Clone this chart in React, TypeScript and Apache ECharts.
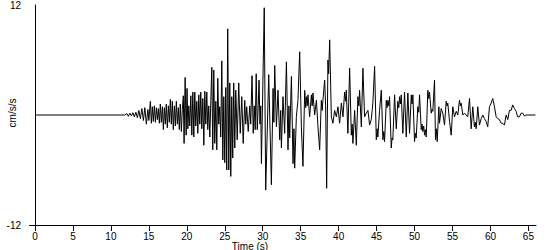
import React, { useEffect, useRef } from "react";
import * as echarts from "echarts";

// Time ticks (s)
const timeTicks = [0, 5, 10, 15, 20, 25, 30, 35, 40, 45, 50, 55, 60, 65];
const accelTicks = [-12, 12];

// Trace segments: [time (s), acceleration (cm/s/s)]
const quietTrace = [[0.13, 0], [11.84, 0]];

const onsetTrace = [
  [12.11, 0.15], [12.3, -0.15], [12.5, 0.2], [12.7, -0.1], [12.89, 0.25], [13.09, -0.2],
  [13.29, 0.3], [13.49, -0.3], [13.68, 0.5], [13.88, -0.4], [14.08, 0.7], [14.28, -0.6],
  [14.47, 0.8], [14.67, -1.0], [14.87, 0.6], [15.0, -0.6],
];

const strongTrace = [
  [15.2, 1.5], [15.33, -0.9], [15.46, 0.9], [15.59, -0.7], [15.72, 1.0], [15.86, -0.8],
  [15.99, 0.8], [16.12, -0.5], [16.25, 0.7], [16.38, -0.9], [16.51, 1.2], [16.64, -0.8],
  [16.78, 0.9], [16.91, -1.6], [17.04, 0.8], [17.17, -1.0], [17.3, 1.2], [17.43, -1.4],
  [17.57, 1.0], [17.7, -0.8], [17.83, 1.7], [17.96, -1.0], [18.09, 1.5], [18.22, -1.6],
  [18.36, 1.0], [18.49, -1.2], [18.62, 1.5], [18.75, -1.0], [18.88, 0.8], [19.01, -1.6],
  [19.14, 1.2], [19.28, -1.8], [19.41, 0.6], [19.54, 2.1], [19.64, -3.1], [19.78, 4.1],
  [19.91, -2.2], [20.03, 2.9], [20.14, -1.5], [20.26, 1.0], [20.39, -1.2], [20.53, 2.1],
  [20.66, -2.2], [20.79, 2.5], [20.92, -2.4], [21.05, 2.5], [21.18, -1.2], [21.32, 1.5],
  [21.45, -2.0], [21.58, 2.2], [21.71, -1.0], [21.84, 2.5], [21.97, -1.5], [22.11, 1.8],
  [22.24, -3.3], [22.37, 2.6], [22.5, -1.0], [22.63, 2.5], [22.76, -1.6], [22.89, 1.0],
  [23.03, -2.4], [23.16, 1.5], [23.29, 5.2], [23.42, -3.8], [23.55, 4.9], [23.68, -3.1],
  [23.82, 1.5], [23.95, -3.8], [24.08, 4.0], [24.21, -1.0], [24.34, 0.9], [24.47, -2.4],
  [24.61, 5.9], [24.74, -4.9], [24.87, 2.0], [25.0, -5.2], [25.13, 3.0], [25.26, -6.0],
  [25.39, 9.4], [25.53, -6.0], [25.66, 3.5], [25.79, -6.7], [25.92, 2.0], [26.05, -4.7],
  [26.18, 3.5], [26.32, -3.6], [26.45, 2.7], [26.64, -2.7], [26.84, 3.5], [27.04, -2.0],
  [27.24, 2.0], [27.43, -3.1], [27.63, 1.6], [27.76, -1.0], [27.89, 0.9], [28.09, -1.8],
  [28.29, 1.0], [28.42, -1.0], [28.59, 4.3], [28.75, -2.0], [28.88, 1.0], [29.01, -1.6],
  [29.14, 4.5], [29.28, -1.6], [29.41, 1.0], [29.51, 3.8], [29.64, -1.0], [29.74, 1.0],
  [29.83, -5.3], [30.2, 11.7], [30.39, -8.2],
];

const codaTrace = [
  [30.79, 4.4], [31.14, -7.6], [31.36, 2.9], [31.47, -0.8], [31.58, 5.4], [31.8, -1.3],
  [32.01, 2.7], [32.24, -2.7], [32.37, 0.5], [32.46, -3.6], [32.67, 2.0], [32.89, -2.0],
  [33.12, 5.8], [33.33, -3.8], [33.45, 1.0], [33.55, -2.5], [33.78, 4.2], [33.99, -5.3],
  [34.11, -1.5], [34.21, -5.8], [34.43, -0.2], [34.64, 1.6], [34.87, 6.9], [35.09, -1.3],
  [35.3, -5.6], [35.53, 2.7], [35.66, 0.8], [35.75, 2.0], [35.86, 1.0], [35.96, 2.2],
  [36.18, -0.2], [36.41, 2.2], [36.51, 1.0], [36.62, 2.4], [36.84, 0.0], [37.07, 1.6],
  [37.28, -1.3], [37.5, -3.8], [37.72, 1.6], [37.83, 0.5], [37.93, 1.6], [38.16, 3.8],
  [38.29, 1.0], [38.42, -8.0], [38.59, 6.0], [38.68, 4.5], [38.82, 8.2], [39.04, -0.2],
  [39.25, -0.9], [39.47, 0.5], [39.7, -0.2], [39.91, 0.9], [40.13, -0.9], [40.36, 1.3],
  [40.57, -0.2], [40.79, 2.5], [40.92, 1.5], [41.01, 2.7], [41.22, -2.0], [41.45, 5.1],
  [41.67, -2.2], [41.78, -1.0], [41.88, -3.1], [42.11, 0.5], [42.33, -3.3], [42.54, 2.0],
  [42.66, 1.0], [42.76, 2.7], [42.99, -1.3], [43.2, 5.1], [43.42, -0.2], [43.64, 0.2],
  [43.86, 0.5], [44.08, -1.1], [44.3, -0.5], [44.51, 1.3], [44.74, 5.3], [44.96, -2.7],
  [45.07, -1.5], [45.17, -2.4], [45.39, 0.5], [45.62, 2.7], [45.83, -2.7], [45.95, -1.8],
  [46.05, -2.9], [46.28, 1.6], [46.38, 0.8], [46.49, 1.6], [46.61, 1.0], [46.71, 2.0],
  [46.93, -3.6], [47.04, -2.5], [47.14, -2.7], [47.37, 2.2], [47.59, -1.5], [47.8, 1.5],
  [47.92, 0.8],
];

const tailTrace = [
  [48.03, 2.0], [48.13, 1.2], [48.25, 2.2], [48.46, -2.0], [48.68, 2.5], [48.91, -2.4],
  [49.12, 2.4], [49.34, -2.0], [49.57, 2.2], [49.67, 1.2], [49.78, 2.2], [50.0, -2.9],
  [50.11, -2.0], [50.22, -2.5], [50.43, 0.9], [50.55, 0.3], [50.66, 2.2], [50.88, -1.6],
  [50.99, -1.0], [51.09, -1.8], [51.21, -1.2], [51.32, -2.2], [51.42, -1.6], [51.54, -2.4],
  [51.75, 2.7], [51.87, 1.8], [51.97, 2.5], [52.2, 0.2], [52.3, 0.6], [52.41, 0.4],
  [52.63, 3.8], [52.76, -2.7], [52.87, -1.5], [52.99, -2.9], [53.2, 0.9], [53.29, -0.9],
  [53.51, 0.7], [53.72, 0.2], [53.95, -1.1], [54.17, 1.5], [54.28, 1.0], [54.38, 1.3],
  [54.61, -0.7], [54.83, -2.2], [55.04, 0.9], [55.26, -0.2], [55.49, 0.4], [55.7, 0.0],
  [55.92, 1.6], [56.03, 1.0], [56.14, 1.3], [56.36, 0.0], [56.58, 0.2], [56.8, 0.0],
  [57.01, -0.2], [57.24, 1.8], [57.46, -1.5], [57.67, 0.9], [57.89, -1.3], [58.0, -0.8],
  [58.12, -1.5], [58.33, 0.9], [58.55, -1.1], [58.78, -0.4], [58.99, 0.0], [59.21, -0.4],
  [59.43, -0.7], [59.64, -1.3], [59.87, 0.9], [60.09, 1.3], [60.3, 1.8], [60.53, 0.9],
  [60.75, -0.2], [60.96, -0.4], [61.18, -0.5], [61.41, -0.9], [61.62, -0.9], [61.84, -1.1],
  [62.07, 0.0], [62.28, -0.5], [62.5, 0.5], [62.72, 0.5], [62.93, 1.1], [63.16, 0.7],
  [63.38, 0.4], [63.59, -0.2], [63.82, -0.2], [64.04, 0.2], [64.25, 0.2], [64.47, -0.1],
  [64.7, 0.0], [65.92, 0.0],
];

const FONT = "'Liberation Sans', Arial, sans-serif";

export default function App() {
  const ref = useRef<HTMLDivElement>(null);
  useEffect(() => {
    if (!ref.current) return;
    const chart = echarts.init(ref.current, null, { renderer: "svg" });
    const trace = [...quietTrace, ...onsetTrace, ...strongTrace, ...codaTrace, ...tailTrace];
    chart.setOption({
      animation: false,
      backgroundColor: "#ffffff",
      textStyle: { fontFamily: FONT },
      grid: { left: 35, right: 14, top: 5, bottom: 25, containLabel: false, outerBoundsMode: "none" },
      xAxis: {
        type: "value",
        min: 0,
        max: 66,
        interval: 5,
        axisLine: { show: true, onZero: false, lineStyle: { color: "#000", width: 1 } },
        axisTick: { show: true, length: 6, customValues: timeTicks, lineStyle: { color: "#000" } },
        axisLabel: {
          customValues: timeTicks,
          color: "#000",
          fontSize: 10,
          lineHeight: 10,
          fontFamily: FONT,
          margin: 6,
        },
        splitLine: { show: false },
      },
      yAxis: {
        type: "value",
        min: -12,
        max: 12,
        axisLine: { show: true, onZero: false, lineStyle: { color: "#000", width: 1 } },
        axisTick: { show: true, length: 6, customValues: [-12], lineStyle: { color: "#000" } },
        axisLabel: {
          customValues: accelTicks,
          color: "#000",
          fontSize: 10,
          fontFamily: FONT,
          margin: 14,
        },
        splitLine: { show: false },
      },
      graphic: [
        {
          type: "text",
          x: 250,
          y: 246,
          style: {
            text: "Time (s)",
            fill: "#000",
            font: `10px ${FONT}`,
            lineHeight: 8,
            align: "center",
            verticalAlign: "middle",
          },
        },
        {
          type: "text",
          x: 12,
          y: 113,
          rotation: Math.PI / 2,
          style: {
            text: "cm/s/s",
            fill: "#000",
            font: `10px ${FONT}`,
            align: "center",
            verticalAlign: "middle",
          },
        },
      ],
      series: [
        {
          type: "line",
          data: trace,
          showSymbol: false,
          symbol: "none",
          lineStyle: { color: "#000", width: 1 },
          clip: true,
        },
      ],
    });
    return () => chart.dispose();
  }, []);
  return (
    <div
      ref={ref}
      style={{ position: "fixed", left: 0, top: 0, width: 550, height: 250, background: "#fff" }}
    />
  );
}
